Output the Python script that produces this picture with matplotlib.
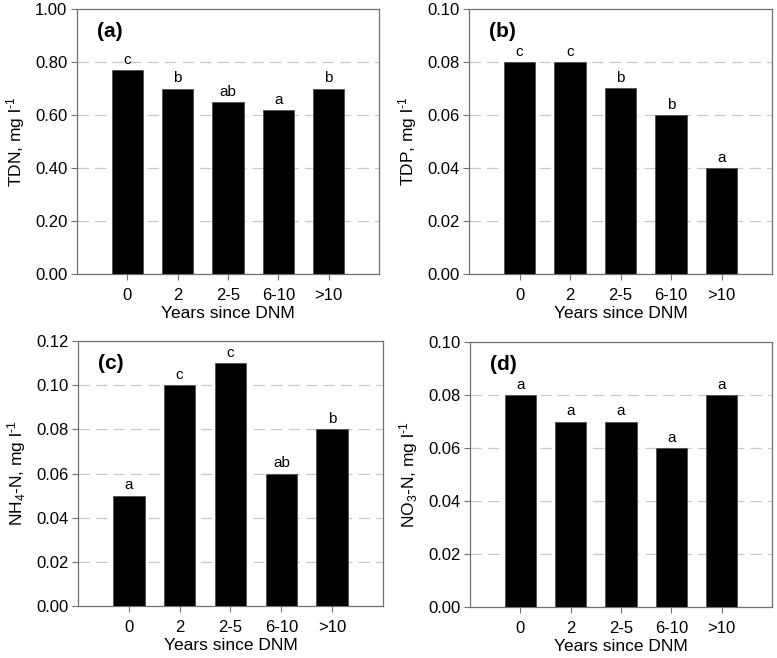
import matplotlib
matplotlib.use("Agg")
import matplotlib.pyplot as plt

plt.rcParams['font.family'] = ['Liberation Sans', 'DejaVu Sans']
plt.rcParams['mathtext.fontset'] = 'custom'
plt.rcParams['mathtext.rm'] = 'Liberation Sans'
plt.rcParams['mathtext.it'] = 'Liberation Sans'
plt.rcParams['mathtext.default'] = 'regular'

categories = ["0", "2", "2-5", "6-10", ">10"]

tdn = [0.77, 0.70, 0.65, 0.62, 0.70]
tdn_letters = ["c", "b", "ab", "a", "b"]
tdp = [0.08, 0.08, 0.07, 0.06, 0.04]
tdp_letters = ["c", "c", "b", "b", "a"]
nh4 = [0.05, 0.10, 0.11, 0.06, 0.08]
nh4_letters = ["a", "c", "c", "ab", "b"]
no3 = [0.08, 0.07, 0.07, 0.06, 0.08]
no3_letters = ["a", "a", "a", "a", "a"]

panels = [
    dict(vals=tdn, letters=tdn_letters, tag="(a)", ylabel=r"TDN, mg l$^{\text{-1}}$",
         ymax=1.0, step=0.2, rect=[77, 9, 379, 274]),
    dict(vals=tdp, letters=tdp_letters, tag="(b)", ylabel=r"TDP, mg l$^{\text{-1}}$",
         ymax=0.10, step=0.02, rect=[469, 9, 772, 274]),
    dict(vals=nh4, letters=nh4_letters, tag="(c)", ylabel=r"NH$_4$-N, mg l$^{\text{-1}}$",
         ymax=0.12, step=0.02, rect=[78, 341, 383, 606]),
    dict(vals=no3, letters=no3_letters, tag="(d)", ylabel=r"NO$_3$-N, mg l$^{\text{-1}}$",
         ymax=0.10, step=0.02, rect=[470, 342, 772, 607]),
]

W, H = 777, 658
fig = plt.figure(figsize=(W / 100, H / 100), dpi=100)

spine_color = "#707070"
for p in panels:
    l, t, r, b = p["rect"]
    ax = fig.add_axes([l / W, 1 - b / H, (r - l) / W, (b - t) / H])
    x = list(range(len(categories)))
    ax.bar(x, p["vals"], width=0.62, color="black", edgecolor="#505050",
           linewidth=0.6, zorder=3)
    ax.set_xlim(-1, 5)
    ax.set_ylim(0, p["ymax"])
    n = int(round(p["ymax"] / p["step"]))
    ticks = [i * p["step"] for i in range(n + 1)]
    ax.set_yticks(ticks)
    ax.set_yticklabels([f"{v:.2f}" for v in ticks])
    ax.set_xticks(x)
    ax.set_xticklabels(categories)
    for v in ticks[1:-1]:
        ax.axhline(v, color="#c8c8c8", linewidth=0.9, linestyle=(0, (9, 5)), zorder=1)
    for s in ax.spines.values():
        s.set_color(spine_color)
        s.set_linewidth(0.9)
    ax.tick_params(axis="both", direction="out", length=4, width=0.8,
                   color=spine_color, labelsize=12, pad=3)
    ax.tick_params(axis="x", pad=6)
    ax.set_xlabel("Years since DNM", fontsize=12.5, labelpad=2)
    ax.set_ylabel(p["ylabel"], fontsize=12.5, labelpad=6)
    off = p["ymax"] * 0.012
    for xi, v, lt in zip(x, p["vals"], p["letters"]):
        ax.text(xi, v + off, lt, ha="center", va="bottom", fontsize=11)
    ax.text(0.065, 0.95, p["tag"], transform=ax.transAxes, ha="left", va="top",
            fontsize=15, fontweight="bold")

fig.savefig("out.png", dpi=100)
